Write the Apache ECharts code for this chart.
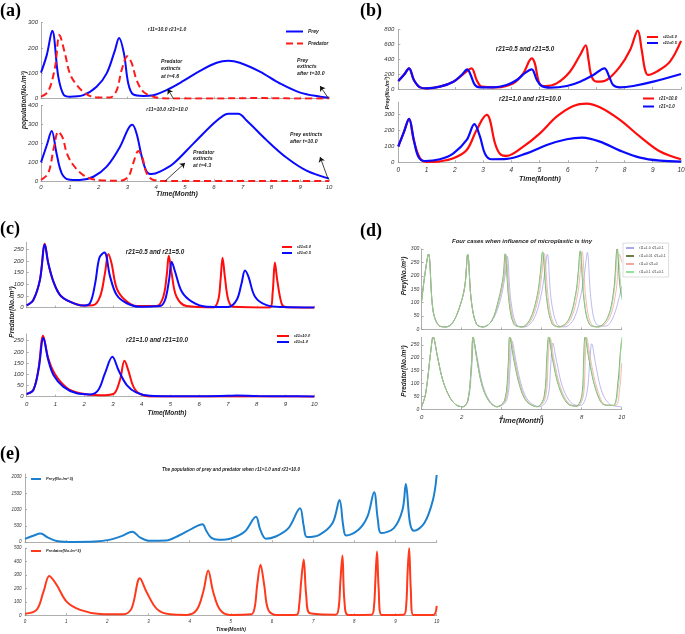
<!DOCTYPE html>
<html><head><meta charset="utf-8">
<script src="https://cdn.jsdelivr.net/npm/echarts/dist/echarts.min.js"></script>
<style>html,body{margin:0;padding:0;background:#fff}#c{width:685px;height:634px}</style>
</head><body><div id="c"></div><script>
// ---------- (a) ----------
const aTopPreyT = [0, 0.2, 0.39, 0.6, 0.78, 1.0, 1.47, 1.93, 2.28, 2.57, 2.71, 2.88, 3.03, 3.2, 3.55, 3.9, 4.36, 4.94, 5.52, 6.1, 6.5, 6.9, 7.6, 8.3, 9.0, 9.7, 10];
const aTopPreyV = [103, 172, 268, 87, 17, 8, 14, 47, 100, 192, 240, 179, 60, 17, 11, 14, 34, 70, 110, 142, 150, 142, 107, 60, 24, 8, 4];
const aTopPredT = [0, 0.25, 0.49, 0.64, 0.83, 1.0, 1.24, 1.59, 1.93, 2.4, 2.63, 2.8, 3.0, 3.15, 3.32, 3.55, 3.9, 4.36, 5, 6, 7, 7.5, 8, 9, 10];
const aTopPredV = [8, 28, 126, 251, 179, 100, 54, 17, 5, 5, 34, 113, 168, 140, 74, 28, 8, 1, 1, 1, 2, 3, 2, 1, 1];
const aBotPreyT = [0, 0.2, 0.37, 0.54, 0.72, 0.95, 1.35, 1.82, 2.28, 2.74, 3.03, 3.17, 3.32, 3.5, 3.67, 3.84, 4.13, 4.6, 5.29, 5.98, 6.33, 6.5, 6.85, 7.14, 7.84, 8.53, 9.22, 10];
const aBotPreyV = [100, 190, 265, 147, 42, 10, 7, 24, 77, 181, 277, 298, 251, 129, 51, 38, 51, 94, 199, 304, 347, 356, 356, 321, 216, 124, 56, 14];
const aBotPredT = [0, 0.25, 0.45, 0.6, 0.75, 0.9, 1.12, 1.47, 1.93, 2.74, 3.03, 3.2, 3.38, 3.52, 3.67, 3.9, 4.36, 5, 6, 7, 8, 9, 10];
const aBotPredV = [8, 42, 180, 262, 230, 147, 86, 33, 7, 3, 24, 94, 160, 125, 42, 7, 1, 1, 1, 1, 1, 1, 1];
// ---------- (b) prey ----------
const bTopLowT = [0, 0.2, 0.38, 0.55, 0.77, 1.0, 1.47, 1.95, 2.24, 2.44, 2.56, 2.71, 2.89, 3.36, 3.83, 4.19, 4.5, 4.72, 4.9, 5.07, 5.37, 5.96, 6.43, 6.9, 7.29, 7.46, 7.6, 7.84, 8.31, 9.02, 10];
const bTopLowV = [107, 190, 277, 121, 22, 9, 31, 98, 188, 264, 188, 54, 22, 22, 54, 121, 220, 264, 121, 40, 18, 40, 98, 188, 277, 165, 54, 22, 40, 98, 201];
const bTopHighT = [0, 0.2, 0.38, 0.55, 0.77, 1.0, 1.47, 1.95, 2.3, 2.59, 2.77, 2.95, 3.48, 4.07, 4.42, 4.72, 4.83, 4.99, 5.19, 5.6, 6.07, 6.43, 6.63, 6.72, 6.84, 7.02, 7.37, 7.84, 8.2, 8.47, 8.61, 8.73, 8.84, 9.14, 9.61, 10];
const bTopHighV = [107, 190, 277, 121, 22, 9, 31, 98, 200, 277, 121, 31, 22, 76, 210, 411, 344, 76, 40, 76, 232, 456, 586, 411, 165, 98, 121, 300, 523, 782, 523, 255, 188, 232, 367, 644];
const bBotLowT = [0, 0.2, 0.38, 0.55, 0.71, 0.94, 1.47, 1.95, 2.42, 2.69, 2.89, 3.07, 3.3, 3.83, 4.54, 5.25, 5.96, 6.51, 7.13, 7.84, 8.55, 9.26, 10];
const bBotLowV = [100, 190, 271, 140, 35, 8, 19, 56, 140, 238, 160, 52, 19, 21, 56, 108, 144, 154, 129, 73, 29, 10, 4];
const bBotHighT = [0, 0.2, 0.38, 0.55, 0.77, 1.0, 1.47, 1.95, 2.42, 2.77, 3.13, 3.24, 3.42, 3.6, 3.83, 4.42, 5.01, 5.6, 6.19, 6.66, 7.13, 7.84, 8.55, 9.26, 10];
const bBotHighV = [100, 190, 271, 135, 25, 2, 6, 25, 77, 202, 296, 265, 119, 52, 40, 98, 181, 285, 352, 367, 344, 265, 160, 67, 19];
// ---------- (c) predator ----------
const cTopLowT = [0, 0.23, 0.46, 0.63, 0.75, 0.93, 1.16, 1.5, 1.97, 2.2, 2.38, 2.53, 2.7, 2.9, 3.13, 3.48, 3.94, 4.63, 4.81, 4.95, 5.04, 5.16, 5.39, 5.74, 6.26, 7.0, 7.3, 7.47, 7.59, 7.71, 7.94, 8.34, 8.92, 10];
const cTopLowV = [10, 33, 119, 269, 190, 111, 54, 26, 9, 19, 104, 215, 236, 133, 54, 19, 4, 7, 33, 119, 197, 154, 69, 26, 4, 3, 33, 104, 159, 133, 47, 11, 3, 1];
const cTopHighT = [0, 0.23, 0.46, 0.63, 0.75, 0.93, 1.16, 1.5, 1.97, 2.3, 2.55, 2.72, 2.84, 2.95, 3.13, 3.42, 3.82, 4.52, 4.75, 4.87, 4.94, 5.04, 5.21, 5.56, 6.49, 6.66, 6.74, 6.81, 6.89, 7.01, 7.18, 8.46, 8.55, 8.63, 8.71, 8.86, 9.0, 10];
const cTopHighV = [10, 33, 119, 274, 190, 111, 54, 26, 9, 10, 47, 147, 230, 190, 83, 33, 7, 7, 47, 140, 222, 147, 47, 7, 1, 33, 119, 214, 133, 33, 4, 1, 61, 193, 119, 19, 2, 0];
const cBotLowT = [0, 0.23, 0.41, 0.58, 0.75, 0.93, 1.27, 1.74, 2.2, 2.49, 2.72, 2.98, 3.19, 3.48, 3.82, 4.29, 5, 6, 7, 7.3, 8, 9, 10];
const cBotLowV = [12, 30, 119, 262, 164, 97, 45, 15, 10, 30, 104, 178, 119, 52, 18, 4, 2, 2, 4, 5, 3, 2, 1];
const cBotHighT = [0, 0.23, 0.41, 0.57, 0.75, 0.98, 1.39, 1.85, 2.55, 3.01, 3.24, 3.4, 3.53, 3.71, 3.94, 4.4, 5, 6, 7, 8, 9, 10];
const cBotHighV = [12, 30, 125, 272, 171, 101, 40, 15, 6, 12, 74, 160, 119, 45, 12, 1, 1, 1, 1, 1, 1, 0];
// ---------- (d) four cases ----------
const dCases = ['r11=1.0 r21=0.1', 'r11=0.01 r21=0.1', 'r11=0 r21=0', 'r11=0.1 r21=0.1'];
const dPrey1T = [0, 0.15, 0.34, 0.57, 0.88, 1.22, 1.55, 1.89, 2.15, 2.3, 2.48, 2.74, 3.07, 3.5, 3.9, 4.17, 4.28, 4.46, 4.76, 5.15, 5.6, 5.95, 6.15, 6.28, 6.48, 6.78, 7.15, 7.6, 7.95, 8.15, 8.28, 8.47, 8.75, 9.2, 9.6, 10];
const dPrey1V = [107, 200, 281, 69, 13, 9, 25, 82, 158, 278, 107, 19, 9, 30, 100, 200, 273, 107, 16, 9, 38, 120, 210, 281, 107, 18, 9, 38, 125, 215, 287, 107, 18, 12, 50, 160];
const dPrey2T = [0, 0.15, 0.34, 0.57, 0.88, 1.22, 1.55, 1.89, 2.15, 2.3, 2.48, 2.74, 3.07, 3.5, 3.83, 4.07, 4.17, 4.36, 4.61, 5.0, 5.42, 5.76, 5.93, 6.04, 6.26, 6.52, 6.86, 7.36, 7.7, 7.82, 7.92, 8.12, 8.38, 8.8, 9.3, 9.6, 9.77, 9.9, 10];
const dPrey2V = [107, 200, 281, 69, 13, 9, 25, 82, 158, 280, 107, 19, 9, 32, 107, 195, 282, 107, 19, 9, 38, 120, 208, 288, 107, 21, 9, 38, 132, 208, 292, 107, 19, 9, 44, 145, 300, 170, 120];
const dPrey3T = [0, 0.15, 0.34, 0.57, 0.88, 1.22, 1.55, 1.89, 2.15, 2.3, 2.48, 2.74, 3.07, 3.5, 3.87, 4.12, 4.22, 4.41, 4.67, 5.06, 5.5, 5.84, 6.01, 6.12, 6.34, 6.6, 6.95, 7.45, 7.8, 7.92, 8.02, 8.22, 8.48, 8.9, 9.4, 9.72, 9.9, 10];
const dPrey3V = [107, 200, 281, 69, 13, 9, 25, 82, 158, 279, 107, 19, 9, 31, 107, 195, 278, 107, 19, 9, 38, 120, 208, 284, 107, 21, 9, 38, 132, 208, 290, 107, 19, 9, 44, 145, 280, 250];
const dPrey4T = [0, 0.15, 0.34, 0.57, 0.88, 1.22, 1.55, 1.89, 2.15, 2.3, 2.48, 2.74, 3.07, 3.5, 3.85, 4.09, 4.19, 4.38, 4.63, 5.02, 5.44, 5.78, 5.95, 6.06, 6.28, 6.54, 6.88, 7.38, 7.72, 7.84, 7.94, 8.14, 8.4, 8.82, 9.32, 9.63, 9.8, 9.92, 10];
const dPrey4V = [107, 200, 281, 69, 13, 9, 25, 82, 158, 280, 107, 19, 9, 32, 107, 195, 281, 107, 19, 9, 38, 120, 208, 290, 107, 21, 9, 38, 132, 208, 294, 107, 19, 9, 44, 145, 296, 200, 110];
const dPred1T = [0, 0.2, 0.46, 0.57, 0.79, 1.05, 1.39, 1.72, 2.06, 2.33, 2.5, 2.6, 2.78, 3.03, 3.37, 3.8, 4.25, 4.42, 4.52, 4.72, 5.02, 5.37, 5.9, 6.3, 6.45, 6.55, 6.75, 7.05, 7.5, 7.95, 8.25, 8.4, 8.5, 8.7, 9.0, 9.4, 10];
const dPred1V = [10, 62, 230, 282, 204, 114, 49, 17, 10, 36, 160, 265, 200, 100, 36, 10, 36, 160, 265, 185, 85, 30, 10, 45, 170, 258, 185, 85, 23, 15, 60, 180, 255, 175, 70, 20, 10];
const dPred2T = [0, 0.2, 0.46, 0.57, 0.79, 1.05, 1.39, 1.72, 2.06, 2.31, 2.48, 2.57, 2.74, 2.99, 3.33, 3.75, 4.15, 4.32, 4.4, 4.61, 4.91, 5.25, 5.76, 6.12, 6.26, 6.35, 6.55, 6.86, 7.28, 7.72, 8.02, 8.1, 8.17, 8.37, 8.71, 9.13, 9.58, 9.82, 9.92, 10];
const dPred2V = [10, 62, 230, 282, 204, 114, 49, 17, 10, 36, 166, 282, 204, 101, 36, 10, 36, 166, 282, 192, 88, 30, 10, 49, 205, 282, 192, 88, 23, 12, 60, 200, 282, 192, 75, 17, 15, 110, 210, 270];
const dPred3T = [0, 0.2, 0.46, 0.57, 0.79, 1.05, 1.39, 1.72, 2.06, 2.31, 2.48, 2.57, 2.74, 2.99, 3.33, 3.75, 4.2, 4.37, 4.45, 4.66, 4.96, 5.3, 5.82, 6.2, 6.33, 6.42, 6.62, 6.93, 7.35, 7.8, 8.1, 8.18, 8.25, 8.45, 8.79, 9.2, 9.7, 9.9, 10];
const dPred3V = [10, 62, 230, 282, 204, 114, 49, 17, 10, 36, 166, 280, 204, 101, 36, 10, 36, 166, 278, 192, 88, 30, 10, 49, 205, 278, 192, 88, 23, 12, 60, 200, 280, 192, 75, 17, 15, 80, 180];
const dPred4T = [0, 0.2, 0.46, 0.57, 0.79, 1.05, 1.39, 1.72, 2.06, 2.31, 2.48, 2.57, 2.74, 2.99, 3.33, 3.75, 4.17, 4.34, 4.42, 4.63, 4.93, 5.27, 5.78, 6.15, 6.28, 6.37, 6.57, 6.88, 7.3, 7.75, 8.05, 8.12, 8.19, 8.39, 8.73, 9.15, 9.6, 9.85, 9.93, 10];
const dPred4V = [10, 62, 230, 282, 204, 114, 49, 17, 10, 36, 166, 282, 204, 101, 36, 10, 36, 166, 282, 192, 88, 30, 10, 49, 205, 282, 192, 88, 23, 12, 60, 200, 282, 192, 75, 17, 15, 100, 200, 282];
// ---------- (e) ----------
const ePreyT = [0, 0.2, 0.38, 0.55, 0.77, 1.2, 1.7, 2.04, 2.36, 2.61, 2.79, 3.0, 3.43, 3.74, 4.06, 4.31, 4.4, 4.52, 4.7, 5.02, 5.34, 5.61, 5.71, 5.85, 6.09, 6.4, 6.68, 6.77, 6.85, 7.15, 7.47, 7.64, 7.73, 7.8, 8.1, 8.32, 8.48, 8.57, 8.65, 8.96, 9.17, 9.25, 9.35, 9.45, 9.7, 9.91, 10];
const ePreyV = [103, 200, 265, 150, 40, 8, 20, 72, 196, 324, 150, 45, 52, 206, 420, 551, 360, 140, 75, 124, 330, 787, 400, 110, 175, 433, 1044, 500, 160, 227, 588, 1300, 500, 205, 381, 794, 1537, 700, 280, 433, 1000, 1793, 600, 350, 588, 1309, 2070];
const ePredT = [0, 0.28, 0.45, 0.59, 0.77, 1.01, 1.34, 1.82, 2.39, 2.59, 2.79, 2.95, 3.2, 3.52, 3.93, 4.17, 4.33, 4.45, 4.57, 4.74, 4.98, 5.5, 5.58, 5.64, 5.72, 5.81, 5.91, 6.11, 6.6, 6.66, 6.71, 6.77, 6.83, 6.92, 7.55, 7.62, 7.66, 7.71, 7.76, 7.85, 8.42, 8.48, 8.51, 8.55, 8.59, 8.66, 9.2, 9.26, 9.29, 9.33, 9.37, 9.43, 9.92, 10];
const ePredV = [12, 40, 176, 293, 226, 102, 40, 10, 7, 52, 276, 176, 48, 7, 3, 40, 176, 333, 176, 40, 3, 8, 60, 226, 376, 226, 40, 2, 5, 80, 260, 415, 151, 15, 5, 60, 250, 445, 102, 3, 5, 80, 260, 475, 201, 3, 5, 80, 300, 500, 201, 3, 3, 70];

// ---------- build ----------
const FONT = '"Liberation Sans", Arial, Helvetica, sans-serif';
const zip = (t, v) => t.map((x, i) => [x, v[i]]);
const BLUE = '#0a0aff', RED = '#ff0d0d';
const D_COLORS = ['#a9a9ee', '#6e7d45', '#f3a6a0', '#93e29a'];
const plain = v => String(v);

function grid(left, top, width, height) { return { left, top, width, height, containLabel: false, outerBoundsMode: 'none' }; }
const grids = [
  grid(41, 22.7, 288, 76), grid(41, 105.5, 288, 75.8),
  grid(398.3, 29.3, 282.7, 59.7), grid(398.3, 102.3, 282.7, 60),
  grid(26.7, 242.3, 287.6, 65.4), grid(26.7, 334, 287.6, 62.7),
  grid(421.7, 249, 200, 80.3), grid(421.7, 337.3, 200, 72),
  grid(25, 474, 411.7, 68.2), grid(25, 548.2, 411.7, 67.1)
];
function xax(gi, show, interval, fs, margin) {
  return { type: 'value', gridIndex: gi, min: 0, max: 10, interval,
    axisLine: { show: true, onZero: false, lineStyle: { color: '#9a9a9a', width: 0.8 } },
    axisTick: { show: true, inside: true, length: 2, lineStyle: { color: '#9a9a9a', width: 0.8 } },
    splitLine: { show: false },
    axisLabel: { show, fontSize: fs, fontStyle: 'italic', color: '#333', margin, fontFamily: FONT, formatter: plain } };
}
function yax(gi, max, interval, fs, margin, showMax) {
  return { type: 'value', gridIndex: gi, min: 0, max, interval,
    axisLine: { show: true, lineStyle: { color: '#9a9a9a', width: 0.8 } },
    axisTick: { show: true, inside: true, length: 2, lineStyle: { color: '#9a9a9a', width: 0.8 } },
    splitLine: { show: false },
    axisLabel: { fontSize: fs, fontStyle: 'italic', color: '#333', margin, fontFamily: FONT, showMaxLabel: showMax, formatter: plain } };
}
const xAxes = [
  xax(0, false, 1, 6, 2), xax(1, true, 1, 6, 3),
  xax(2, false, 1, 6, 2), xax(3, true, 1, 6.5, 4),
  xax(4, false, 1, 6, 2), xax(5, true, 1, 6, 5),
  xax(6, false, 2, 6, 2), xax(7, true, 2, 6, 5),
  xax(8, false, 1, 4.5, 2), xax(9, true, 1, 4.5, 4)
];
const yAxes = [
  yax(0, 300, 100, 6, 3, true), yax(1, 400, 100, 6, 3, true),
  yax(2, 800, 200, 6, 4, true), yax(3, 375, 100, 6, 4, false),
  yax(4, 280, 50, 6, 3, false), yax(5, 280, 50, 6, 3, false),
  yax(6, 300, 50, 5, 2.5, true), yax(7, 280, 50, 5, 2.5, false),
  yax(8, 2100, 500, 4.5, 3.5, false), yax(9, 500, 100, 4.5, 3.5, true)
];
function line(name, gi, t, v, color, width, extra) {
  return Object.assign({ type: 'line', name, xAxisIndex: gi, yAxisIndex: gi, data: zip(t, v),
    symbol: 'none', showSymbol: false, smooth: 0.35, animation: false, silent: true,
    lineStyle: { color, width }, itemStyle: { color } }, extra || {});
}
const arrowStyle = { silent: true, symbol: ['none', 'arrow'], symbolSize: 5, label: { show: false },
  lineStyle: { color: '#111', width: 0.8, type: 'solid' }, emphasis: { disabled: true }, animation: false };
const dashRed = { type: [7, 4] };

const series = [
  line('a|Prey', 0, aTopPreyT, aTopPreyV, BLUE, 2, { markLine: Object.assign({}, arrowStyle, {
    data: [[{ coord: [4.6, 0] }, { coord: [4.4, 38] }], [{ coord: [9.97, 3] }, { coord: [9.69, 50] }]] }) }),
  line('a|Predator', 0, aTopPredT, aTopPredV, '#ff1a1a', 2, { lineStyle: Object.assign({ color: '#ff1a1a', width: 2 }, dashRed) }),
  line('a|Prey', 1, aBotPreyT, aBotPreyV, BLUE, 2, { markLine: Object.assign({}, arrowStyle, {
    data: [[{ coord: [4.3, 0] }, { coord: [5.0, 97] }], [{ coord: [9.97, 12] }, { coord: [9.69, 128] }]] }) }),
  line('a|Predator', 1, aBotPredT, aBotPredV, '#ff1a1a', 2, { lineStyle: Object.assign({ color: '#ff1a1a', width: 2 }, dashRed) }),

  line('b1|r21=5.0', 2, bTopHighT, bTopHighV, RED, 2.2),
  line('b1|r21=0.5', 2, bTopLowT, bTopLowV, BLUE, 2.2),
  line('b2|r21=10.0', 3, bBotHighT, bBotHighV, RED, 2.2),
  line('b2|r21=1.0', 3, bBotLowT, bBotLowV, BLUE, 2.2),

  line('c1|r21=5.0', 4, cTopHighT, cTopHighV, RED, 2),
  line('c1|r21=0.5', 4, cTopLowT, cTopLowV, BLUE, 2),
  line('c2|r21=10.0', 5, cBotHighT, cBotHighV, RED, 2),
  line('c2|r21=1.0', 5, cBotLowT, cBotLowV, BLUE, 2),

  line('d|' + dCases[0], 6, dPrey1T, dPrey1V, D_COLORS[0], 0.8),
  line('d|' + dCases[2], 6, dPrey3T, dPrey3V, D_COLORS[2], 0.8),
  line('d|' + dCases[1], 6, dPrey2T, dPrey2V, D_COLORS[1], 0.8),
  line('d|' + dCases[3], 6, dPrey4T, dPrey4V, D_COLORS[3], 0.8),
  line('d|' + dCases[0], 7, dPred1T, dPred1V, D_COLORS[0], 0.8),
  line('d|' + dCases[2], 7, dPred3T, dPred3V, D_COLORS[2], 0.8),
  line('d|' + dCases[1], 7, dPred2T, dPred2V, D_COLORS[1], 0.8),
  line('d|' + dCases[3], 7, dPred4T, dPred4V, D_COLORS[3], 0.8),

  line('e|Prey(No./m^3)', 8, ePreyT, ePreyV, '#1c80cf', 2),
  line('e|Predator(No./m^3)', 9, ePredT, ePredV, '#ff3a1c', 2)
];

function L(data, left, top, w, h, gap, fs, extra) {
  return Object.assign({ data, left, top, orient: 'vertical', itemWidth: w, itemHeight: h, itemGap: gap, padding: 0,
    selectedMode: false, formatter: n => n.split('|')[1],
    itemStyle: { opacity: 0, borderWidth: 0 },
    textStyle: { fontSize: fs, fontStyle: 'italic', fontWeight: 'bold', color: '#222', fontFamily: FONT } }, extra || {});
}
const legends = [
  L(['a|Prey', 'a|Predator'], 285, 29, 17, 6, 7, 5),
  L(['b1|r21=5.0', 'b1|r21=0.5'], 646, 35, 11, 4, 2, 4),
  L(['b2|r21=10.0', 'b2|r21=1.0'], 642, 96, 11, 4, 3, 4.5),
  L(['c1|r21=5.0', 'c1|r21=0.5'], 281, 245, 10, 4, 2, 4),
  L(['c2|r21=10.0', 'c2|r21=1.0'], 276, 334, 12, 4, 2, 4),
  L(dCases.map(c => 'd|' + c), 623, 243, 8, 3, 4, 3.5,
    { padding: [3, 3, 3, 2], borderColor: '#c8c8c8', borderWidth: 0.6, backgroundColor: '#fff',
      textStyle: { fontSize: 3.5, color: '#444', fontFamily: FONT } }),
  L(['e|Prey(No./m^3)'], 30, 477, 10, 4, 0, 4),
  L(['e|Predator(No./m^3)'], 30, 549, 10, 4, 0, 4)
];

const R = Math.PI / 2;
function T(x, y, text, size, o) {
  o = o || {};
  return { type: 'text', x, y, rotation: o.rot || 0, silent: true, z: 100,
    style: { text, fontSize: size, fontFamily: o.family || FONT, fontStyle: o.fs || 'italic', fontWeight: 'bold',
      fill: o.fill || '#222', align: o.align || 'center', verticalAlign: o.va || 'middle', lineHeight: o.lh || size * 1.2 } };
}
const SERIF = '"Liberation Serif", "DejaVu Serif", "Times New Roman", serif';
const graphics = [
  T(0, 1, '(a)', 18, { family: SERIF, fs: 'normal', align: 'left', va: 'top', fill: '#000' }),
  T(360, 1, '(b)', 18, { family: SERIF, fs: 'normal', align: 'left', va: 'top', fill: '#000' }),
  T(0, 219, '(c)', 18, { family: SERIF, fs: 'normal', align: 'left', va: 'top', fill: '#000' }),
  T(360, 221, '(d)', 18, { family: SERIF, fs: 'normal', align: 'left', va: 'top', fill: '#000' }),
  T(0, 444, '(e)', 18, { family: SERIF, fs: 'normal', align: 'left', va: 'top', fill: '#000' }),

  T(167, 30, 'r11=10.0 r21=1.0', 5),
  T(161, 69, 'Predator\nextincts\nat t=4.6', 5.2, { align: 'left', lh: 7.4 }),
  T(297, 67, 'Prey\nextincts\nafter t=10.0', 5.2, { align: 'left', lh: 6.7 }),
  T(167, 110, 'r11=10.0 r21=10.0', 5),
  T(193, 159, 'Predator\nextincts\nat t=4.3', 5.2, { align: 'left', lh: 6.6 }),
  T(290, 138, 'Prey extincts\nafter t=10.0', 5.2, { align: 'left', lh: 6.2 }),
  T(24, 100, 'population(No./m³)', 6.5, { rot: R }),
  T(177, 194, 'Time(Month)', 7),

  T(525, 49, 'r21=0.5 and r21=5.0', 6.3),
  T(530, 99, 'r21=1.0 and r21=10.0', 6.3),
  T(387, 93, 'Prey(No./m³)', 5.5, { rot: R }),
  T(540, 179, 'Time(Month)', 7),

  T(155, 252, 'r21=0.5 and r21=5.0', 6.3),
  T(157, 340, 'r21=1.0 and r21=10.0', 6.3),
  T(12, 312, 'Predator(No./m³)', 6.5, { rot: R }),
  T(167, 413, 'Time(Month)', 6.5),

  T(522, 241, 'Four cases when influence of microplastic is tiny', 6),
  T(404, 276, 'Prey(No./m³)', 6.5, { rot: R }),
  T(404, 371, 'Predator(No./m³)', 6.5, { rot: R }),
  T(521, 421, 'Time(Month)', 7.5),

  T(231, 470, 'The population of prey and predator when r11=1.0 and r21=10.0', 4.6),
  T(231, 630, 'Time(Month)', 5)
];

const chart = echarts.init(document.getElementById('c'), null, { renderer: 'canvas' });
chart.setOption({
  backgroundColor: '#fff',
  animation: false,
  tooltip: { show: false },
  grid: grids,
  xAxis: xAxes,
  yAxis: yAxes,
  legend: legends,
  series,
  graphic: graphics
});
</script></body></html>
